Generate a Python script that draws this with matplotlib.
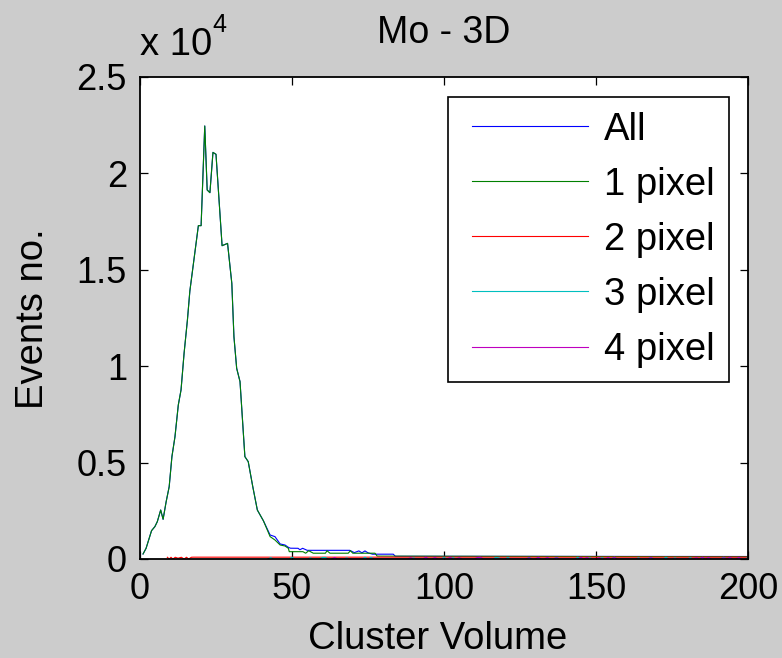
import matplotlib.pyplot as plt
import numpy as np
from matplotlib.legend_handler import HandlerLine2D
from matplotlib.lines import Line2D
from matplotlib.ticker import FuncFormatter, MultipleLocator

plt.rcParams["font.family"] = ["Liberation Sans", "DejaVu Sans"]

TICK_SIZE = 26
LABEL_SIZE = 27.5
BG = "#cccccc"

# Main peak, where "All" and "1 pixel" coincide
peak_volume = [1.0, 2.0, 3.8, 4.9, 5.7, 6.8, 7.6, 8.6, 9.6, 10.5, 11.5, 12.6,
               13.5, 14.5, 15.6, 16.4, 19.2, 20.1, 21.3, 22.1, 23.0, 24.0, 25.0,
               27.0, 28.8, 30.2, 30.9, 31.8, 32.9, 34.5, 35.6, 37.1, 38.6, 40.6]
peak_events = [260, 555, 1470, 1680, 1940, 2540, 2060, 2970, 3750, 5310, 6340,
               7990, 8770, 10670, 12400, 13900, 17290, 17290, 22460, 19140,
               19000, 21090, 20990, 16250, 16370, 14300, 11530, 9890, 9200,
               5310, 5050, 3750, 2540, 1980]

# Tails, where the two start to separate
all_tail_volume = [42.8, 44.4, 46.1, 47.7, 48.8, 49.5, 52.0, 52.6, 53.5, 55.0,
                   69.0, 70.5, 72.0, 73.0, 74.0, 75.0, 76.5, 83.3, 84.0, 200.0]
all_tail_events = [1245, 1160, 780, 726, 605, 560, 555, 480, 555, 450,
                   450, 330, 420, 320, 420, 320, 250, 250, 140, 130]
one_tail_volume = [42.8, 44.4, 46.1, 47.7, 48.8, 49.1, 53.6, 54.5, 55.5, 57.0,
                   61.0, 61.5, 62.5, 68.5, 69.2, 70.0, 77.3, 78.0, 200.0]
one_tail_events = [1160, 985, 726, 674, 555, 380, 380, 300, 430, 300,
                   300, 430, 300, 300, 430, 300, 300, 150, 115]

two_volume = [9.0, 9.6, 10.2, 10.8, 11.6, 12.5, 13.6, 14.5, 15.3, 16.0, 16.9,
              17.5, 200.0]
two_events = [90, 0, 90, 0, 90, 40, 90, 0, 90, 0, 90, 95, 95]

# 3 and 4 pixel clusters: nonzero bins only
three_start = 42
three_bins = [43, 50, 56, 60, 61, 68, 74, 76, 90, 100, 103, 117, 118, 121,
              128, 137, 144, 148, 152, 156, 164, 168, 173, 176, 181, 185,
              192, 200]
three_counts = [70, 90, 60, 80, 80, 60, 90, 80, 60, 80, 70, 80, 60, 80,
                70, 80, 90, 60, 70, 90, 60, 80, 90, 60, 70, 80, 90, 70]
four_start = 63
four_bins = [64, 89, 94, 97, 102, 105, 111, 112, 128, 131, 134, 137, 145,
             147, 151, 154, 156, 168, 183, 185, 187, 192, 194, 197]
four_counts = [80, 70, 90, 80, 90, 70, 80, 90, 70, 90, 80, 70, 90,
               80, 70, 80, 90, 80, 70, 90, 80, 70, 90, 80]

labels = ["All", "1 pixel", "2 pixel", "3 pixel", "4 pixel"]
colors = ["#0000ff", "#008000", "#ff0000", "#00bfbf", "#bf00bf"]


def sparse_series(start, bins, counts):
    volume = np.arange(start, 201)
    events = np.zeros(len(volume))
    events[np.array(bins) - start] = counts
    return volume, events


three_volume, three_events = sparse_series(three_start, three_bins, three_counts)
four_volume, four_events = sparse_series(four_start, four_bins, four_counts)

series = [
    (peak_volume + all_tail_volume, peak_events + all_tail_events),
    (peak_volume + one_tail_volume, peak_events + one_tail_events),
    (two_volume, two_events),
    (three_volume, three_events),
    (four_volume, four_events),
]

W, H = 782, 658
fig = plt.figure(figsize=(W / 100, H / 100), dpi=100, facecolor=BG)
ax = fig.add_axes([140 / W, (H - 559) / H, 608 / W, 482 / H])

for (x, y), label, color in zip(series, labels, colors):
    ax.plot(x, y, color=color, linewidth=0.8, label=label)

ax.set_xlim(0, 200)
ax.set_ylim(0, 25000)
ax.xaxis.set_major_locator(MultipleLocator(50))
ax.yaxis.set_major_locator(MultipleLocator(5000))
ax.yaxis.set_major_formatter(FuncFormatter(lambda v, _: f"{v / 1e4:g}"))
ax.tick_params(direction="in", length=5.5, width=0.9, top=True, right=True,
               labelsize=TICK_SIZE, pad=9.4, colors="black")
for spine in ax.spines.values():
    spine.set_linewidth(1.3)
    spine.set_color("black")

# exponent above the y axis
fig.text(140 / W, 1 - 55 / H, "x 10", fontsize=LABEL_SIZE, va="baseline")
fig.text(212 / W, 1 - 32 / H, "4", fontsize=18, va="baseline")

ax.set_title("Mo - 3D", fontsize=27, pad=24.5)
ax.set_xlabel("Cluster Volume", fontsize=LABEL_SIZE, va="baseline")
ax.xaxis.set_label_coords((437.5 - 140) / 608, (559 - 649) / 482)
ax.set_ylabel("Events no.", fontsize=LABEL_SIZE, va="baseline", ha="center",
              rotation_mode="anchor")
ax.yaxis.set_label_coords((43 - 140) / 608, (559 - 318.5) / 482)

leg = ax.legend(
    loc="upper left",
    bbox_to_anchor=(448 / W, 1 - 97 / H),
    bbox_transform=fig.transFigure,
    borderaxespad=0,
    fontsize=LABEL_SIZE,
    frameon=True,
    fancybox=False,
    framealpha=1,
    edgecolor="black",
    borderpad=0.38,
    handlelength=3.29,
    handletextpad=0.42,
    labelspacing=0.50,
    handler_map={Line2D: HandlerLine2D(xpad=0.25)},
)
leg.get_frame().set_linewidth(1.2)

fig.savefig("out.png", dpi=100, facecolor=BG)
